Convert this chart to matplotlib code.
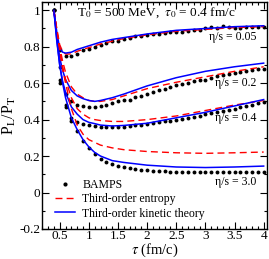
import matplotlib
matplotlib.use('Agg')
import matplotlib.pyplot as plt
from matplotlib.ticker import MultipleLocator

plt.rcParams['font.family'] = ['Liberation Serif', 'DejaVu Serif']
plt.rcParams['mathtext.fontset'] = 'stix'

# BAMPS dots (tau in fm/c)
tau_dots = [0.4, 0.5, 0.6, 0.7, 0.8, 0.9, 1.0, 1.1, 1.2, 1.3, 1.4, 1.5, 1.6, 1.7, 1.8, 1.9,
            2.0, 2.1, 2.2, 2.3, 2.4, 2.5, 2.6, 2.7, 2.8, 2.9, 3.0, 3.1, 3.2, 3.3, 3.4, 3.5,
            3.6, 3.7, 3.8, 3.9, 4.0]
bamps_005 = [1.0, 0.78, 0.75, 0.75, 0.76, 0.78, 0.79, 0.80, 0.81, 0.82, 0.83, 0.83, 0.84,
             0.85, 0.86, 0.86, 0.865, 0.87, 0.87, 0.875, 0.88, 0.88, 0.88, 0.885, 0.89, 0.89,
             0.90, 0.91, 0.905, 0.915, 0.91, 0.90, 0.905, 0.91, 0.91, 0.91, 0.91]
bamps_02 = [1.0, 0.69, 0.54, 0.50, 0.48, 0.475, 0.47, 0.47, 0.475, 0.48, 0.49, 0.50, 0.505,
            0.51, 0.525, 0.53, 0.54, 0.55, 0.56, 0.57, 0.58, 0.59, 0.595, 0.60, 0.61, 0.62,
            0.62, 0.63, 0.64, 0.645, 0.65, 0.655, 0.66, 0.665, 0.67, 0.675, 0.68]
bamps_04 = [1.0, 0.60, 0.47, 0.41, 0.385, 0.375, 0.37, 0.365, 0.362, 0.36, 0.36, 0.36, 0.362,
            0.365, 0.37, 0.372, 0.375, 0.38, 0.385, 0.39, 0.395, 0.40, 0.405, 0.41, 0.415,
            0.42, 0.43, 0.435, 0.44, 0.45, 0.455, 0.46, 0.47, 0.475, 0.48, 0.49, 0.495]
bamps_30 = [1.0, 0.62, 0.48, 0.39, 0.335, 0.285, 0.245, 0.21, 0.185, 0.17, 0.155, 0.145,
            0.138, 0.133, 0.128, 0.125, 0.122, 0.12, 0.118, 0.116, 0.115, 0.114, 0.113, 0.112,
            0.112, 0.112, 0.112, 0.112, 0.112, 0.113, 0.113, 0.113, 0.114, 0.114, 0.115,
            0.115, 0.115]

# hydro curves
tau_c = [0.4, 0.45, 0.5, 0.55, 0.6, 0.7, 0.8, 0.9, 1.0, 1.1, 1.2, 1.4, 1.6, 2.0, 2.5, 3.0,
         3.5, 4.0]
kin_005 = [1.0, 0.88, 0.79, 0.77, 0.765, 0.77, 0.785, 0.795, 0.805, 0.815, 0.825, 0.84,
           0.85, 0.87, 0.89, 0.90, 0.91, 0.915]
ent_005 = [1.0, 0.90, 0.81, 0.775, 0.76, 0.76, 0.775, 0.785, 0.795, 0.805, 0.815, 0.83,
           0.845, 0.865, 0.885, 0.895, 0.905, 0.91]
kin_02 = [1.0, 0.86, 0.74, 0.67, 0.62, 0.56, 0.53, 0.515, 0.505, 0.50, 0.505, 0.52, 0.54,
          0.585, 0.63, 0.665, 0.69, 0.71]
ent_02 = [1.0, 0.89, 0.80, 0.72, 0.66, 0.58, 0.54, 0.52, 0.505, 0.50, 0.50, 0.51, 0.53,
          0.57, 0.605, 0.635, 0.665, 0.69]
kin_04 = [1.0, 0.84, 0.70, 0.61, 0.55, 0.47, 0.43, 0.40, 0.385, 0.378, 0.37, 0.365, 0.368,
          0.38, 0.41, 0.44, 0.475, 0.51]
ent_04 = [1.0, 0.88, 0.78, 0.69, 0.62, 0.52, 0.46, 0.43, 0.41, 0.40, 0.395, 0.39, 0.39,
          0.40, 0.42, 0.45, 0.48, 0.505]
kin_30 = [1.0, 0.83, 0.70, 0.60, 0.52, 0.41, 0.345, 0.29, 0.25, 0.22, 0.20, 0.175, 0.165,
          0.15, 0.14, 0.137, 0.14, 0.145]
ent_30 = [1.0, 0.88, 0.78, 0.68, 0.60, 0.46, 0.37, 0.32, 0.29, 0.275, 0.26, 0.245, 0.235,
          0.225, 0.218, 0.215, 0.218, 0.222]

labels = ['η/s = 0.05', 'η/s = 0.2', 'η/s = 0.4', 'η/s = 3.0']
label_y = [0.855, 0.60, 0.41, 0.055]

fig = plt.figure(figsize=(2.69, 2.59), dpi=100)
ax = fig.add_axes([0.157, 0.116, 0.834, 0.876])

for ent, kin, b in [(ent_005, kin_005, bamps_005), (ent_02, kin_02, bamps_02),
                    (ent_04, kin_04, bamps_04), (ent_30, kin_30, bamps_30)]:
    ax.plot(tau_dots, b, 'o', color='black', ms=2.8, mew=0)
    ax.plot(tau_c, ent, color='red', lw=1.0, dashes=(5, 3))
    ax.plot(tau_c, kin, color='blue', lw=1.1)

for lab, y in zip(labels, label_y):
    ax.text(3.88, y, lab, ha='right', va='center', fontsize=8.5)

ax.text(2.15, 0.985, r'T$_0$ = 500 MeV,  $\tau_0$ = 0.4 fm/c', ha='center', va='center',
        fontsize=9.5)

# legend handles
h1, = ax.plot([], [], 'o', color='black', ms=3, mew=0, label='BAMPS')
h2, = ax.plot([], [], color='red', lw=1.0, dashes=(5, 3), label='Third-order entropy')
h3, = ax.plot([], [], color='blue', lw=1.1, label='Third-order kinetic theory')
ax.legend(handles=[h1, h2, h3], loc='lower left', bbox_to_anchor=(0.02, 0.005),
          frameon=False, fontsize=8.5, handlelength=1.7, handletextpad=0.6,
          labelspacing=0.2, borderpad=0.2)

ax.set_xlim(0.2, 4.05)
ax.set_ylim(-0.2, 1.045)
ax.xaxis.set_minor_locator(MultipleLocator(0.1))
ax.yaxis.set_minor_locator(MultipleLocator(0.1))
ax.set_xticks([0.5, 1, 1.5, 2, 2.5, 3, 3.5, 4])
ax.set_xticklabels(['0.5', '1', '1.5', '2', '2.5', '3', '3.5', '4'])
ax.set_yticks([-0.2, 0, 0.2, 0.4, 0.6, 0.8, 1])
ax.set_yticklabels(['-0.2', '0', '0.2', '0.4', '0.6', '0.8', '1'])
ax.tick_params(which='both', direction='in', top=True, right=True, labelsize=9.5, pad=1.5)
ax.tick_params(axis='x', pad=1)
ax.tick_params(which='major', length=5, width=0.8)
ax.tick_params(which='minor', length=2.5, width=0.8)
for s in ax.spines.values():
    s.set_linewidth(1.0)

ax.set_xlabel(r'$\tau$ (fm/c)', fontsize=10.5, labelpad=-0.5)
ax.set_ylabel(r'P$_{\rm L}$/P$_{\rm T}$', fontsize=11.5, labelpad=1)

fig.savefig('out.png', dpi=100)
